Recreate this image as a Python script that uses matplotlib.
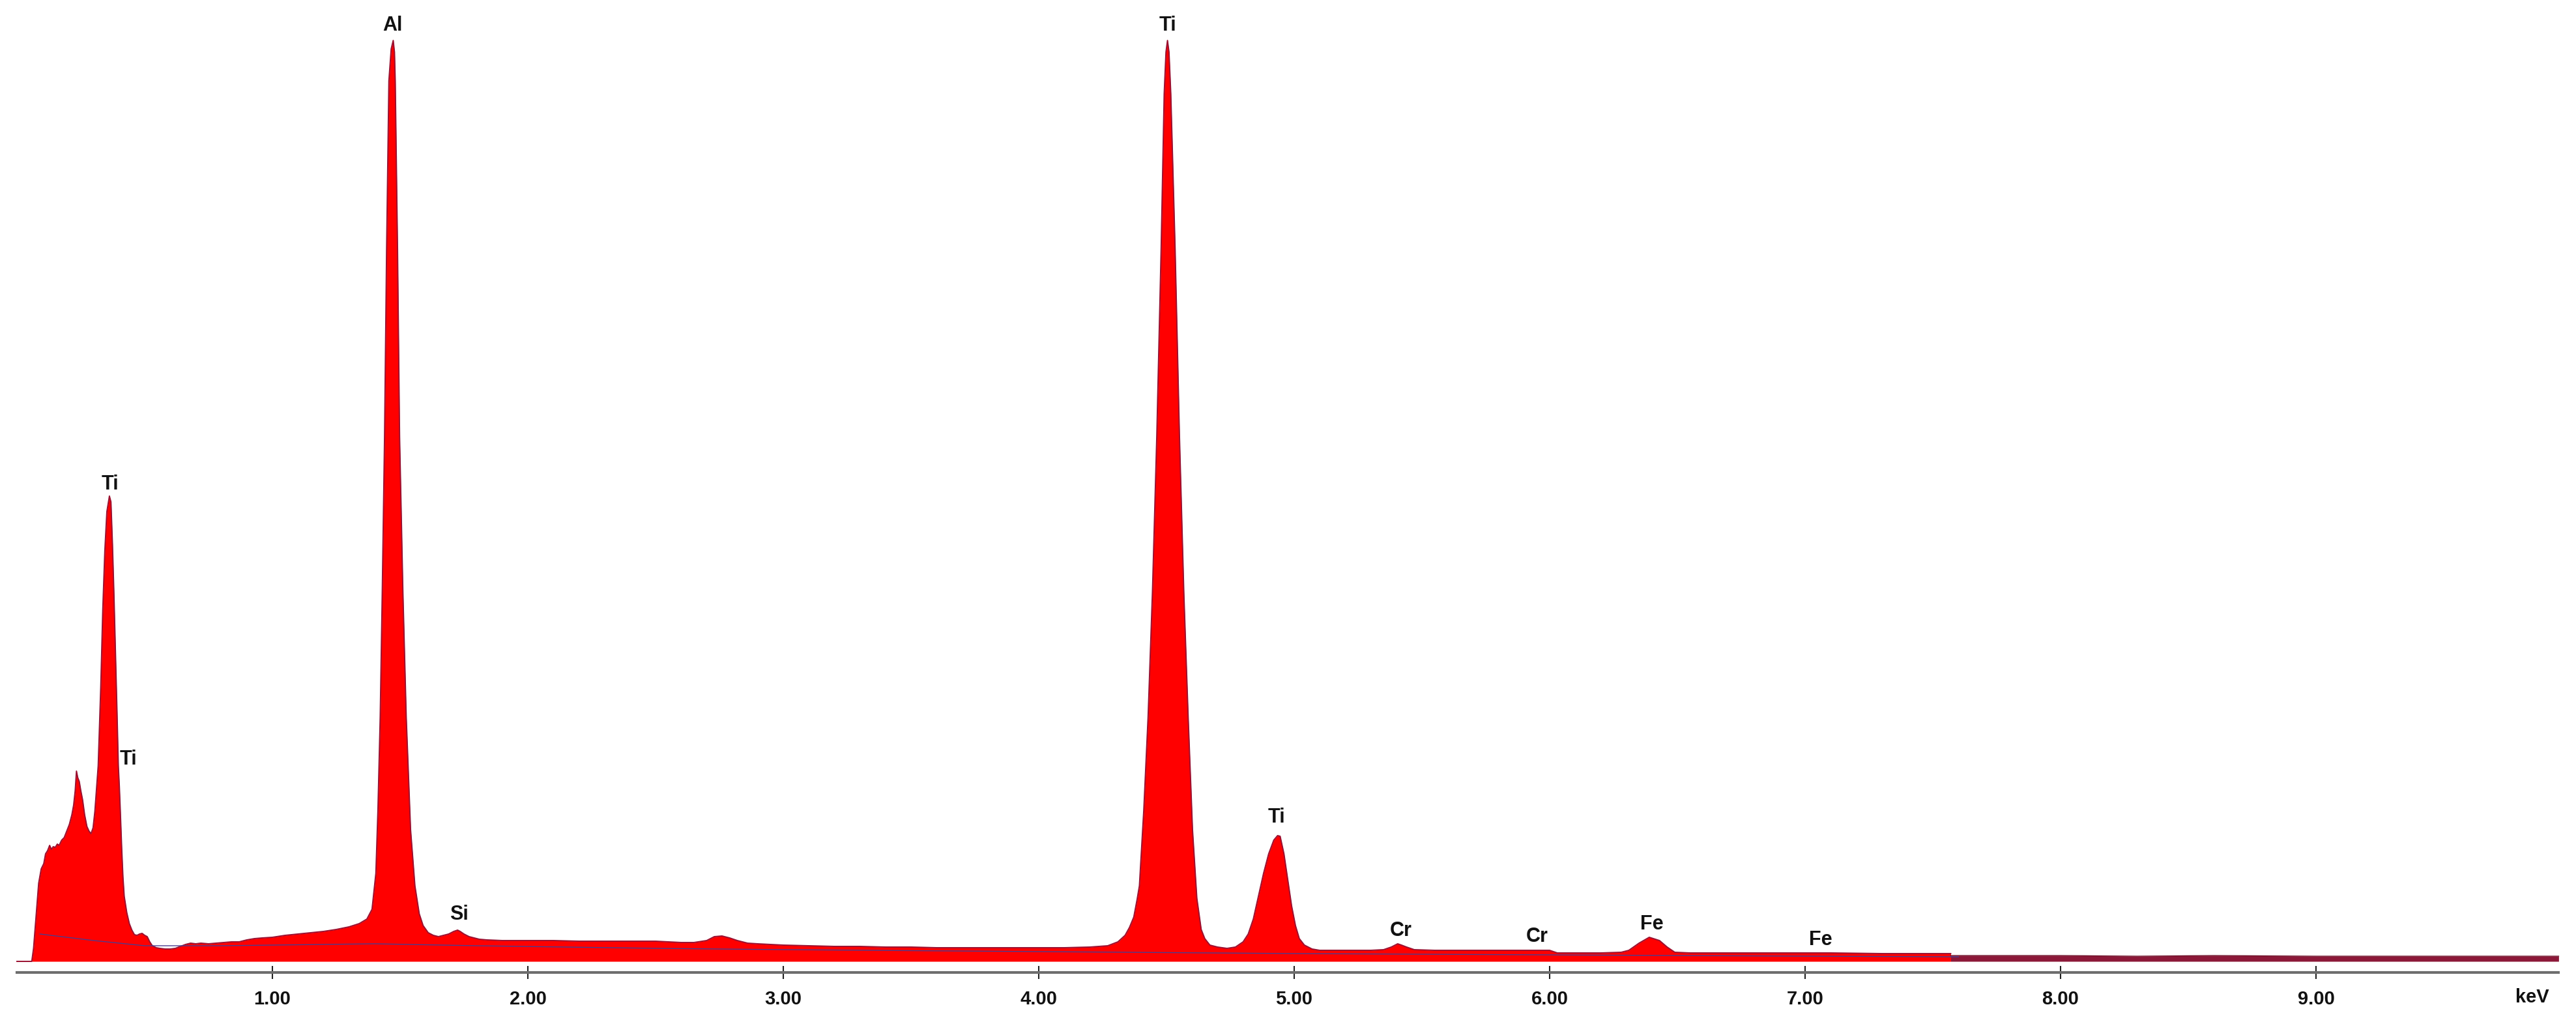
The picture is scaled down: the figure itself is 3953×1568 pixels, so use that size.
import matplotlib
matplotlib.use("Agg")
import matplotlib.pyplot as plt

# EDS spectrum, counts (arbitrary units)
energy_kev = [0.0, 0.058, 0.065, 0.075, 0.085, 0.095, 0.105, 0.112, 0.12, 0.128,
              0.135, 0.142, 0.15, 0.158, 0.165, 0.175, 0.185, 0.195, 0.205, 0.215,
              0.222, 0.228, 0.233, 0.238, 0.244, 0.25, 0.257, 0.265, 0.274, 0.282,
              0.29, 0.298, 0.305, 0.318, 0.328, 0.336, 0.344, 0.352, 0.362, 0.368,
              0.374, 0.38, 0.386, 0.392, 0.397, 0.401, 0.405, 0.41, 0.415, 0.42,
              0.43, 0.44, 0.45, 0.46, 0.47, 0.48, 0.49, 0.50, 0.51, 0.52,
              0.53, 0.545, 0.56, 0.58, 0.60, 0.62, 0.64, 0.66, 0.68, 0.70,
              0.72, 0.75, 0.78, 0.81, 0.84, 0.87, 0.90, 0.93, 0.96, 1.0,
              1.05, 1.1, 1.15, 1.2, 1.25, 1.3, 1.34, 1.37, 1.39, 1.405,
              1.413, 1.422, 1.43, 1.439, 1.447, 1.456, 1.465, 1.473, 1.478, 1.481,
              1.49, 1.498, 1.511, 1.524, 1.541, 1.558, 1.575, 1.59, 1.61, 1.63,
              1.65, 1.67, 1.69, 1.71, 1.725, 1.735, 1.75, 1.77, 1.79, 1.81,
              1.84, 1.9, 2.0, 2.1, 2.2, 2.3, 2.4, 2.5, 2.55, 2.6,
              2.65, 2.7, 2.73, 2.76, 2.79, 2.82, 2.86, 2.9, 3.0, 3.1,
              3.2, 3.3, 3.4, 3.5, 3.6, 3.7, 3.8, 3.9, 4.0, 4.1,
              4.2, 4.27, 4.31, 4.338, 4.355, 4.372, 4.385, 4.394, 4.411, 4.428,
              4.445, 4.462, 4.479, 4.491, 4.498, 4.504, 4.51, 4.517, 4.534, 4.551,
              4.568, 4.585, 4.602, 4.619, 4.636, 4.65, 4.67, 4.7, 4.737, 4.77,
              4.8, 4.82, 4.84, 4.86, 4.88, 4.9, 4.92, 4.935, 4.945, 4.96,
              4.975, 4.99, 5.005, 5.02, 5.04, 5.07, 5.1, 5.2, 5.3,
              5.35, 5.38, 5.405, 5.42, 5.44, 5.47, 5.55, 5.7, 5.85, 6.0,
              6.03, 6.1, 6.2, 6.28, 6.31, 6.35, 6.39, 6.43, 6.46, 6.49,
              6.55, 6.7, 6.9, 7.0, 7.1, 7.3, 7.5, 7.57]
counts = [0, 0, 20, 70, 120, 142, 150, 165, 170, 178,
          172, 176, 175, 180, 178, 186, 190, 200, 210, 225,
          240, 262, 292, 282, 276, 262, 248, 225, 207, 200,
          196, 205, 230, 300, 420, 540, 630, 690, 714, 705,
          640, 560, 470, 380, 300, 268, 228, 175, 130, 100,
          75, 58, 48, 41, 40, 42, 43, 40, 38, 30,
          24, 21, 20, 19, 19, 20, 23, 26, 28, 27,
          28, 27, 28, 29, 30, 30, 33, 35, 36, 37,
          40, 42, 44, 46, 49, 53, 58, 65, 80, 135,
          231, 375, 566, 805, 1092, 1351, 1400, 1413, 1395, 1351,
          1092, 805, 566, 375, 202, 116, 73, 55, 44, 40,
          38, 40, 42, 46, 48, 46, 42, 38, 36, 34,
          33, 32, 32, 32, 31, 31, 31, 31, 30, 29,
          29, 32, 38, 39, 36, 32, 28, 27, 25, 24,
          23, 23, 22, 22, 21, 21, 21, 21, 21, 21,
          22, 24, 30, 40, 52, 68, 95, 116, 231, 375,
          566, 805, 1092, 1331, 1395, 1413, 1395, 1331, 1092, 805,
          566, 375, 202, 97, 49, 35, 25, 22, 20, 22,
          30, 42, 65, 100, 135, 165, 186, 193, 192, 165,
          125, 85, 55, 35, 25, 19, 17, 17, 17,
          18, 22, 27, 25, 22, 18, 17, 17, 17, 17,
          13, 13, 13, 14, 17, 28, 37, 32, 22, 14,
          13, 13, 13, 13, 13, 12, 12, 12]

# weak high-energy tail, shown in the darker colour
tail_kev = [7.57, 7.8, 8.0, 8.3, 8.6, 9.0, 9.3, 9.6, 9.95]
tail_counts = [9, 9, 9, 8, 9, 8, 8, 8, 8]

# background (bremsstrahlung) fit line
bkg_kev = [0.09, 0.3, 0.5, 0.8, 1.0, 1.4, 1.8, 2.5, 3.0, 4.0, 5.0, 6.0, 7.0, 7.6]
bkg_counts = [42, 32, 24, 24, 25, 27, 24, 20, 18, 15, 12, 10, 8, 7]

# element labels
label_text = ["Ti", "Ti", "Al", "Si", "Ti", "Ti", "Cr", "Cr", "Fe", "Fe"]
label_kev = [0.365, 0.435, 1.47, 1.73, 4.504, 4.93, 5.418, 5.952, 6.401, 7.061]
label_counts = [732, 310, 1436, 72, 1436, 221, 47, 38, 57, 33]

tick_kev = [1, 2, 3, 4, 5, 6, 7, 8, 9]
tick_labels = ["1.00", "2.00", "3.00", "4.00", "5.00", "6.00", "7.00", "8.00", "9.00"]

FONT = ["Liberation Sans", "DejaVu Sans"]


def main():
    fig = plt.figure(figsize=(39.53, 15.68), dpi=100)
    ax = fig.add_axes([0, 0, 1, 1])
    ax.set_xlim(-26 / 392, (3953 - 26) / 392)
    ax.set_ylim(-93, 1475)

    ax.fill_between(energy_kev, counts, 0, color="#ff0000", lw=0, zorder=2)
    ax.plot(energy_kev, counts, color="#9a1030", lw=1.4, zorder=3)
    ax.fill_between(tail_kev, tail_counts, 0, color="#8c1838", lw=0, zorder=2)
    ax.plot(tail_kev, tail_counts, color="#6e1028", lw=1.0, zorder=3)
    ax.plot(bkg_kev, bkg_counts, color="#4a3c90", lw=1.0, zorder=4)

    for t, x, y in zip(label_text, label_kev, label_counts):
        ax.text(x, y, t, ha="center", va="center", fontsize=22,
                fontweight="bold", family=FONT, color="#111111", zorder=5)

    # x axis only
    for s in ["left", "right", "top"]:
        ax.spines[s].set_visible(False)
    ax.spines["bottom"].set_position(("data", -17))
    ax.spines["bottom"].set_bounds(0.0, 9.95)
    ax.spines["bottom"].set_color("#6e6e6e")
    ax.spines["bottom"].set_linewidth(3)
    ax.set_yticks([])
    ax.set_xticks(tick_kev)
    ax.set_xticklabels(tick_labels, fontsize=21, fontweight="bold", family=FONT)
    ax.tick_params(axis="x", direction="inout", length=15, width=1.5,
                   color="#222222", pad=12, labelcolor="#111111")
    ax.text(9.847, -55, "keV", ha="center", va="center", fontsize=21,
            fontweight="bold", family=FONT, color="#111111")

    fig.savefig("out.png", dpi=100, facecolor="white")
    plt.close(fig)


if __name__ == "__main__":
    main()
